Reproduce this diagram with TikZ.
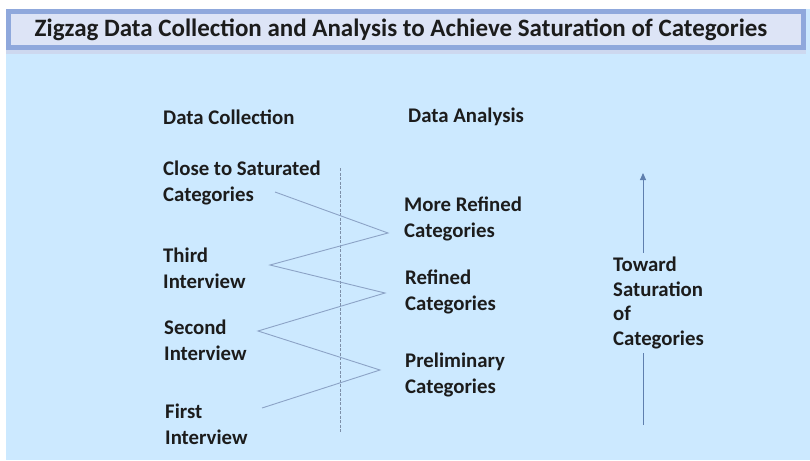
\documentclass[tikz,border=0pt]{standalone}
\usepackage{fontspec}
\setmainfont{Carlito}
\usetikzlibrary{arrows.meta}
\definecolor{panel}{HTML}{CCE9FF}
\definecolor{titlefill}{HTML}{DDE4F6}
\definecolor{titleedge}{HTML}{8FA8DC}
\definecolor{zig}{HTML}{8CA3C6}
\definecolor{axis}{HTML}{7D8FA8}
\definecolor{rise}{HTML}{5F7FAE}
\definecolor{ink}{HTML}{1C1C1C}
\tikzset{
  lbl/.style={anchor=west, align=left, inner sep=0pt, text=ink,
    font=\fontsize{20.8}{26}\selectfont\bfseries},
  head/.style={lbl},
  zigline/.style={draw=zig, line width=0.9pt},
}
\begin{document}
\begin{tikzpicture}[x=1pt,y=-1pt]
  \useasboundingbox (0,0) rectangle (810,460);
  % background panel
  \fill[panel] (6,9) rectangle (810,460);
  % title bar
  \fill[titleedge!45] (6,47) rectangle (806,54);
  \draw[titleedge, line width=5pt, fill=titlefill] (8.5,11.5) rectangle (803.5,47.5);
  \node[inner sep=0pt, text=ink, font=\fontsize{25}{28}\selectfont\bfseries] (title) at (401,30)
    {Zigzag Data Collection and Analysis to Achieve Saturation of Categories};

  % column headings
  \node[head] (dc) at (163,117) {Data Collection};
  \node[head] (da) at (408,117) {Data Analysis};

  % collection side
  \node[lbl] (cs) at (163,182.5) {Close to Saturated\\Categories};
  \node[lbl] (ti) at (163,268) {Third\\Interview};
  \node[lbl] (si) at (164,340) {Second\\Interview};
  \node[lbl] (fi) at (165,424.5) {First\\Interview};

  % analysis side
  \node[lbl] (mr) at (404,219) {More Refined\\Categories};
  \node[lbl] (rf) at (405,291.5) {Refined\\Categories};
  \node[lbl] (pr) at (405,374.5) {Preliminary\\Categories};

  % divider
  \coordinate (divtop) at (340,168);
  \coordinate (divbot) at (340,433);
  \draw[axis, line width=0.7pt, dash pattern=on 3pt off 1.5pt] (divtop) -- (divbot);

  % zigzag path
  \coordinate (z1) at (275,192);
  \coordinate (z2) at (388,233);
  \coordinate (z3) at (270,265);
  \coordinate (z4) at (385,293);
  \coordinate (z5) at (258,331);
  \coordinate (z6) at (380,370);
  \coordinate (z7) at (262,408);
  \draw[zigline] (z7) -- (z6) -- (z5) -- (z4) -- (z3) -- (z2) -- (z1);

  % saturation arrow
  \coordinate (ab) at (643,425);
  \coordinate (at) at (643,173);
  \draw[rise, line width=1pt, -{Triangle[length=7pt,width=6pt]}] (ab) -- (at);
  \node[lbl, fill=panel, inner ysep=4pt, font=\fontsize{20.8}{24.7}\selectfont\bfseries] (tw) at (613,303)
    {Toward\\Saturation\\of\\Categories};
\end{tikzpicture}
\end{document}
